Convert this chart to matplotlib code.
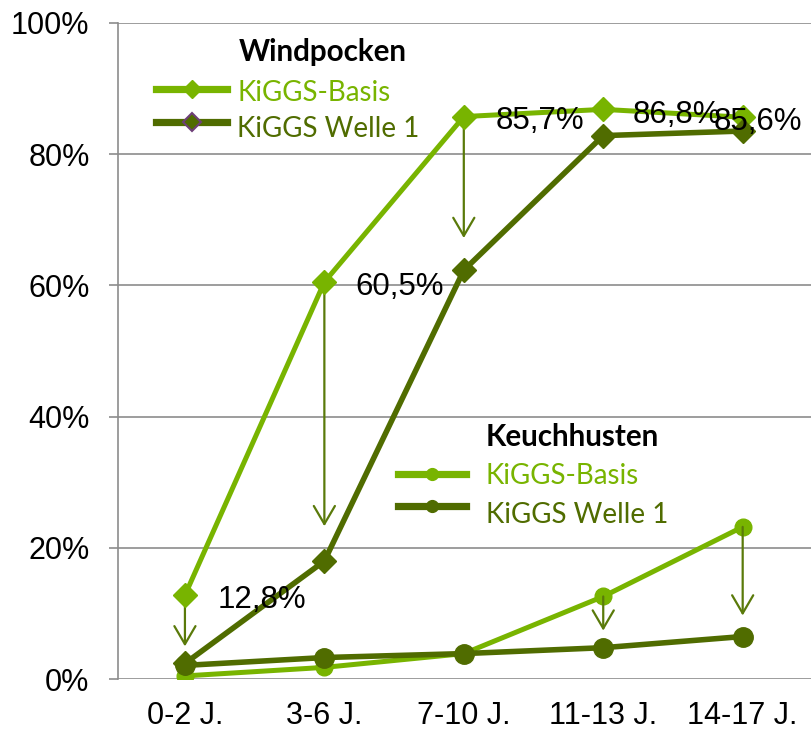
import matplotlib
matplotlib.use("Agg")
import matplotlib.pyplot as plt
from matplotlib.lines import Line2D

# ---------------- data ----------------
categories = ["0-2 J.", "3-6 J.", "7-10 J.", "11-13 J.", "14-17 J."]
wind_basis = [12.8, 60.5, 85.7, 86.8, 85.6]
wind_welle = [2.4, 18.0, 62.3, 82.8, 83.5]
keuch_basis = [0.5, 1.8, 3.9, 12.6, 23.2]
keuch_welle = [2.1, 3.3, 3.9, 4.8, 6.5]
wind_labels = ["12,8%", "60,5%", "85,7%", "86,8%", "85,6%"]
yticks = [0, 20, 40, 60, 80, 100]
ytick_labels = ["0%", "20%", "40%", "60%", "80%", "100%"]
# arrows: category index, start value, end value
arrow_cat = [0, 1, 2, 3, 4]
arrow_from = [12.8, 60.5, 85.7, 12.6, 23.2]
arrow_to = [5.0, 23.3, 67.2, 7.4, 9.7]

# ---------------- style ----------------
LIGHT = "#78B400"
DARK = "#506C00"
ARROW = "#5A7A0A"
GRID = "#8C8C8C"
W, H = 811, 734

ARIAL = ["Liberation Sans", "DejaVu Sans"]
CALIBRI = ["Lato", "DejaVu Sans"]

fig = plt.figure(figsize=(W / 100, H / 100), dpi=100)
ax = fig.add_axes([118 / W, 1 - 679.2 / H, (811 - 118) / W, (679.2 - 22.7) / H])

x = list(range(len(categories)))

ax.plot(x, keuch_basis, color=LIGHT, lw=3.6, marker="o", ms=12, zorder=3)
ax.plot(x, keuch_welle, color=DARK, lw=4.0, marker="o", ms=14, zorder=4)
ax.plot(x, wind_basis, color=LIGHT, lw=3.6, marker="D", ms=12.5, zorder=5)
ax.plot(x, wind_welle, color=DARK, lw=4.0, marker="D", ms=12.5, zorder=6)

for c, a, b in zip(arrow_cat, arrow_from, arrow_to):
    ax.annotate("", xy=(c, b), xytext=(c, a),
                arrowprops=dict(arrowstyle="->,head_length=0.65,head_width=0.38",
                                color=ARROW, lw=1.6, shrinkA=0, shrinkB=0,
                                mutation_scale=20),
                zorder=4.5)

label_offsets = [(33, -13), (31, -13), (32, -12), (29, -14), (-29, -13)]
for c, v, t, off in zip(x, wind_basis, wind_labels, label_offsets):
    ax.annotate(t, xy=(c, v), xytext=off, textcoords="offset pixels",
                ha="left", va="baseline", fontsize=22.5, family=ARIAL,
                color="black", zorder=10)

ax.set_xlim(-0.48, 4.49)
ax.set_ylim(0, 100)
ax.set_yticks(yticks)
ax.set_yticklabels(ytick_labels, family=ARIAL, fontsize=22)
ax.set_xticks(x)
ax.set_xticklabels(categories, family=ARIAL, fontsize=22)
ax.tick_params(axis="y", length=6.5, width=1.2, color=GRID, pad=14)
ax.tick_params(axis="x", length=0, pad=16)
ax.grid(axis="y", color=GRID, lw=1.2, zorder=0)
ax.set_axisbelow(True)
for s in ["top", "right", "bottom"]:
    ax.spines[s].set_visible(False)
ax.spines["left"].set_color(GRID)
ax.spines["left"].set_linewidth(1.2)


# ---------------- legends (drawn in figure pixel space) ----------------
def fx(px):
    return px / W


def fy(py):
    return 1 - py / H


def legend_row(x0, x1, y_line, y_text, text_x, label, color, marker, ms, mec=None):
    fig.add_artist(Line2D([fx(x0), fx(x1)], [fy(y_line), fy(y_line)],
                          transform=fig.transFigure, color=color, lw=5.2))
    fig.add_artist(Line2D([fx((x0 + x1) / 2)], [fy(y_line)],
                          transform=fig.transFigure, color=color, marker=marker,
                          ms=ms, mec=mec if mec else color, mew=1.5 if mec else 1))
    fig.text(fx(text_x), fy(y_text), label, color=color, fontsize=20,
             family=CALIBRI, ha="left", va="baseline")


fig.text(fx(239), fy(61), "Windpocken", fontsize=21.3, family=CALIBRI,
         fontweight="bold", ha="left", va="baseline", color="black")
legend_row(156, 227, 89, 101, 237, "KiGGS-Basis", LIGHT, "D", 9)
legend_row(156, 227, 122, 137, 237, "KiGGS Welle 1", DARK, "D", 9, mec="#6E3F78")

fig.text(fx(486), fy(446), "Keuchhusten", fontsize=21.3, family=CALIBRI,
         fontweight="bold", ha="left", va="baseline", color="black")
legend_row(398, 466, 474, 484, 486, "KiGGS-Basis", LIGHT, "o", 8.5)
legend_row(398, 466, 506, 523, 486, "KiGGS Welle 1", DARK, "o", 8.5)

fig.savefig("out.png", dpi=100)
